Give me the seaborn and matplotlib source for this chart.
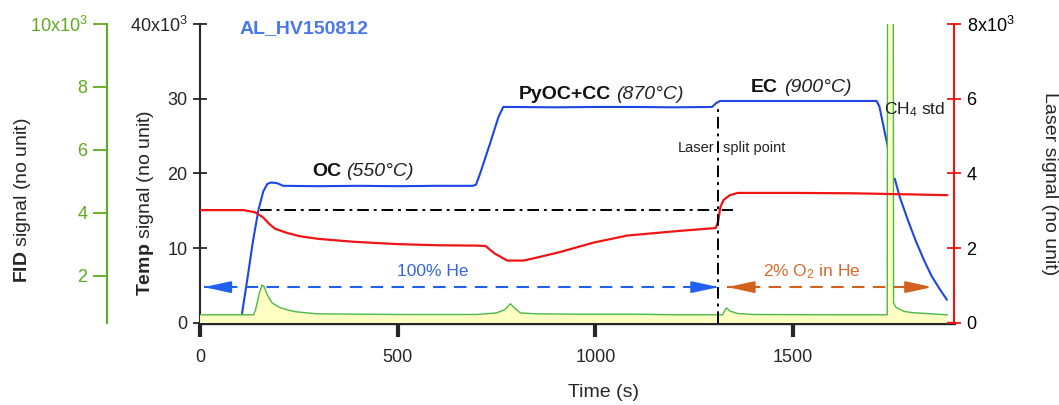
import matplotlib
matplotlib.use('Agg')
import matplotlib.pyplot as plt
import seaborn as sns

# Temperature signal (black left axis), before and after the CH4 peak
temp_time = [106, 120, 134, 148, 160, 170, 180, 195, 210, 300, 400, 500, 600, 690,
             698, 709, 734, 755, 767, 780, 900, 1000, 1100, 1200, 1295, 1305, 1315,
             1400, 1500, 1600, 1711, 1718, 1742]
temp_signal = [1200, 6000, 11000, 15200, 17600, 18600, 18800, 18700, 18350, 18300, 18350,
               18300, 18350, 18350, 18500, 20100, 24100, 27600, 28900, 28900, 28850, 28900,
               28900, 28850, 28900, 29400, 29700, 29700, 29700, 29700, 29700, 29000, 22900]
temp_decay_time = [1757, 1770, 1790, 1810, 1831, 1850, 1870, 1889]
temp_decay_signal = [19300, 16800, 13800, 11000, 8400, 6300, 4600, 3100]

# Laser signal (red right axis)
laser_time = [0, 110, 140, 160, 175, 190, 220, 253, 300, 392, 500, 600, 700, 722, 745,
              777, 818, 860, 911, 995, 1081, 1208, 1304, 1310, 1316, 1324, 1340, 1360,
              1500, 1650, 1800, 1890]
laser_signal = [3020, 3020, 2960, 2820, 2650, 2520, 2410, 2320, 2250, 2170, 2110, 2080,
                2070, 2060, 1860, 1670, 1670, 1770, 1900, 2150, 2340, 2460, 2540, 2700,
                3100, 3290, 3420, 3480, 3480, 3470, 3440, 3420]

# FID signal (green outer left axis)
fid_time = [0, 135, 140, 150, 157, 162, 170, 182, 200, 220, 240, 270, 300, 400, 500, 600,
            700, 750, 770, 785, 795, 810, 850, 950, 1100, 1200, 1300, 1322, 1327, 1332,
            1340, 1360, 1400, 1600, 1738, 1740, 1752, 1754, 1760, 1780, 1800, 1850, 1890]
fid_signal = [760, 760, 900, 1450, 1710, 1650, 1400, 1140, 1000, 920, 860, 820, 790, 780,
              770, 770, 770, 820, 920, 1110, 980, 820, 790, 780, 780, 760, 760, 760, 900,
              980, 880, 800, 770, 760, 760, 30000, 30000, 1140, 1000, 870, 830, 790, 760]

x_ticks = [0, 500, 1000, 1500]
temp_ticks = [0, 10000, 20000, 30000, 40000]
temp_labels = ['0', '10', '20', '30', r'40x10$^3$']
fid_ticks = [2000, 4000, 6000, 8000, 10000]
fid_labels = ['2', '4', '6', '8', r'10x10$^3$']
laser_ticks = [0, 2000, 4000, 6000, 8000]
laser_labels = ['0', '2', '4', '6', r'8x10$^3$']

# stage labels: bold name, italic temperature
stages = [('OC', '(550°C)', 357, 369, 20300),
          ('PyOC+CC', '(870°C)', 1039, 1051, 30600),
          ('EC', '(900°C)', 1462, 1476, 31500)]

split_time = 1311
he_arrow = (10, 1311, 4800)
o2_arrow = (1334, 1852, 4800)

blue = '#1e46e6'
red = '#f01414'
green_line = '#4cb84c'
green_axis = '#5faa1e'
orange = '#d2601e'

sns.set_style('ticks')
plt.rcParams['font.family'] = ['Liberation Sans', 'DejaVu Sans']
plt.rcParams['mathtext.fontset'] = 'custom'
plt.rcParams['mathtext.rm'] = 'Liberation Sans'
plt.rcParams['mathtext.it'] = 'Liberation Sans:italic'
plt.rcParams['mathtext.bf'] = 'Liberation Sans:bold'
plt.rcParams['mathtext.default'] = 'regular'

fig = plt.figure(figsize=(10.59, 4.05), dpi=100)
ax = fig.add_axes([0.1889, 0.2025, 0.712, 0.7383])
ax_fid = ax.twinx()
ax_laser = ax.twinx()

# temperature
sns.lineplot(x=temp_time, y=temp_signal, ax=ax, color=blue, linewidth=1.5,
             estimator=None, sort=False)
sns.lineplot(x=temp_decay_time, y=temp_decay_signal, ax=ax, color=blue, linewidth=1.5,
             estimator=None, sort=False)

# FID
ax_fid.fill_between(fid_time, fid_signal, 0, color='#ffffc4', linewidth=0)
sns.lineplot(x=fid_time, y=fid_signal, ax=ax_fid, color=green_line, linewidth=1.0,
             estimator=None, sort=False)

# laser
sns.lineplot(x=laser_time, y=laser_signal, ax=ax_laser, color=red, linewidth=1.6,
             estimator=None, sort=False)
ax_laser.plot([152, 1347], [laser_signal[0], laser_signal[0]], color='black', lw=1.4,
              ls=(0, (6, 2.5, 1.5, 2.5)))
ax_laser.plot([split_time, split_time], [0, 5800], color='black', lw=1.4,
              ls=(0, (6, 2.5, 1.5, 2.5)))

# gas phase arrows
for (x0, x1, y), col in [(he_arrow, '#2060f0'), (o2_arrow, orange)]:
    ax.plot([x0, x1], [y, y], color=col, lw=1.5, ls=(0, (6, 4)))
    for tip, tail in [(x0, x0 + 60), (x1, x1 - 60)]:
        ax.annotate('', xy=(tip, y), xytext=(tail, y),
                    arrowprops=dict(arrowstyle='-|>,head_length=1.6,head_width=0.35',
                                    color=col, lw=1.5, mutation_scale=10,
                                    shrinkA=0, shrinkB=0))

# axes limits and ticks
ax.set_xlim(0, 1907)
ax.set_ylim(0, 40000)
ax_fid.set_ylim(500, 10000)
ax_laser.set_ylim(0, 8000)

ax.set_xticks(x_ticks)
ax.set_xticklabels([str(t) for t in x_ticks])
ax.set_yticks(temp_ticks)
ax.set_yticklabels(temp_labels)
ax_fid.set_yticks(fid_ticks)
ax_fid.set_yticklabels(fid_labels)
ax_laser.set_yticks(laser_ticks)
ax_laser.set_yticklabels(laser_labels)

for side in ['top', 'right']:
    ax.spines[side].set_visible(False)
ax.spines['left'].set_linewidth(1.5)
ax.spines['bottom'].set_linewidth(2.4)
ax.tick_params(axis='y', direction='inout', length=10, width=1.3, labelsize=13, pad=4)
ax.tick_params(axis='x', direction='out', length=10, width=3, labelsize=13, pad=9)

for side in ['top', 'right', 'bottom']:
    ax_fid.spines[side].set_visible(False)
ax_fid.spines['left'].set_visible(True)
ax_fid.spines['left'].set_position(('outward', 67))
ax_fid.spines['left'].set_color(green_axis)
ax_fid.spines['left'].set_linewidth(1.5)
ax_fid.yaxis.set_ticks_position('left')
ax_fid.yaxis.set_label_position('left')
ax_fid.tick_params(axis='y', direction='out', length=10, width=1.3, colors=green_axis,
                   labelsize=13, pad=4)

for side in ['top', 'left', 'bottom']:
    ax_laser.spines[side].set_visible(False)
ax_laser.spines['right'].set_color(red)
ax_laser.spines['right'].set_linewidth(1.5)
ax_laser.tick_params(axis='y', direction='inout', length=10, width=1.3, color=red,
                     labelcolor='black', labelsize=13, pad=4)

# axis labels
ax.set_xlabel('Time (s)', fontsize=14, va='center')
ax.xaxis.set_label_coords(0.535, -0.231)
ax.set_ylabel(r'$\mathbf{Temp}$ signal (no unit)', fontsize=14, va='center')
ax.yaxis.set_label_coords(-0.073, 0.401)
ax_fid.set_ylabel(r'$\mathbf{FID}$ signal (no unit)', fontsize=14, va='center')
ax_fid.yaxis.set_label_coords(-0.236, 0.411)
ax_laser.set_ylabel('Laser signal (no unit)', fontsize=14, va='center', rotation=270)
ax_laser.yaxis.set_label_coords(1.126, 0.465)

# annotations
t = ax.transData
ax_laser.text(99, 39400, 'AL_HV150812', color='#4a78ea', fontsize=14,
              fontweight='bold', ha='left', va='center', transform=t)
for name, temp, x_name, x_temp, y in stages:
    ax_laser.text(x_name, y, name, fontsize=14, fontweight='bold', ha='right',
                  va='center', color='#111111', transform=t)
    ax_laser.text(x_temp, y, temp, fontsize=14, style='italic', ha='left',
                  va='center', color='#222222', transform=t)
ax_laser.text(1301, 23400, 'Laser', fontsize=10.5, ha='right', va='center',
              color='#222222', transform=t)
ax_laser.text(1322, 23400, 'split point', fontsize=10.5, ha='left', va='center',
              color='#222222', transform=t)
ax_laser.text(1729, 28600, r'CH$_4$ std', fontsize=12.5, ha='left', va='center',
              color='#222222', transform=t)
ax_laser.text(588, 6900, '100% He', fontsize=12.5, ha='center', va='center',
              color='#3366e6', transform=t)
ax_laser.text(1547, 6900, r'2% O$_2$ in He', fontsize=12.5, ha='center', va='center',
              color='#d8692c', transform=t)

fig.savefig('out.png', dpi=100)
